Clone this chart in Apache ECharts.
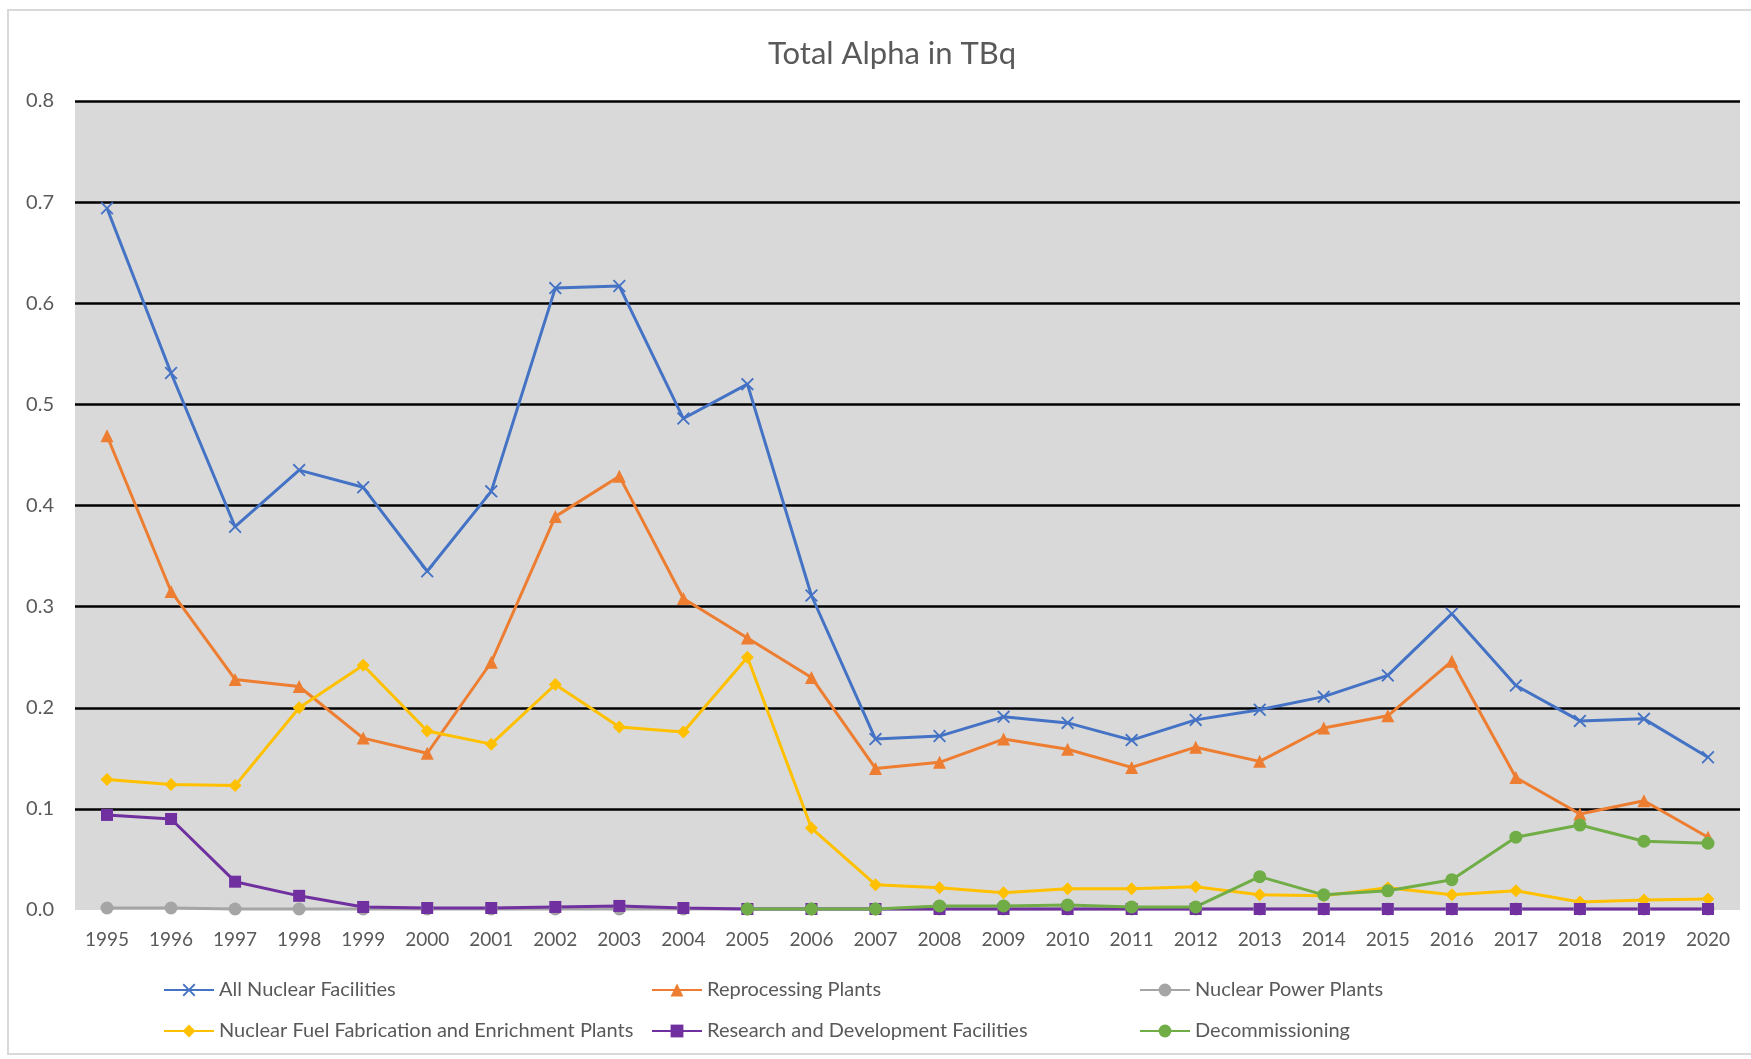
<!DOCTYPE html>
<html>
<head>
<meta charset="utf-8">
<title>Total Alpha in TBq</title>
<script src="https://cdn.jsdelivr.net/npm/echarts@6/dist/echarts.min.js"></script>
<style>
  html, body { margin: 0; padding: 0; background: #fff; }
  #container { width: 1751px; height: 1059px; }
</style>
</head>
<body>
<div id="container"></div>
<script>
// years on the x axis
var years = ['1995','1996','1997','1998','1999','2000','2001','2002','2003','2004','2005','2006','2007',
             '2008','2009','2010','2011','2012','2013','2014','2015','2016','2017','2018','2019','2020'];

// values in TBq
var allFacilities = [0.694, 0.531, 0.379, 0.435, 0.418, 0.335, 0.414, 0.615, 0.617, 0.486, 0.520, 0.311, 0.169,
                     0.172, 0.191, 0.185, 0.168, 0.188, 0.198, 0.211, 0.232, 0.293, 0.222, 0.187, 0.189, 0.151];
var reprocessing = [0.469, 0.315, 0.228, 0.221, 0.170, 0.155, 0.245, 0.389, 0.429, 0.308, 0.269, 0.230, 0.140,
                    0.146, 0.169, 0.159, 0.141, 0.161, 0.147, 0.180, 0.192, 0.246, 0.131, 0.095, 0.108, 0.072];
var powerPlants = [0.002, 0.002, 0.001, 0.001, 0.001, 0.001, 0.001, 0.001, 0.001, 0.001, 0.001, 0.001, 0.001,
                   0.001, 0.001, 0.001, 0.001, 0.001, 0.001, 0.001, 0.001, 0.001, 0.001, 0.001, 0.001, 0.001];
var fuelFabrication = [0.129, 0.124, 0.123, 0.200, 0.242, 0.177, 0.164, 0.223, 0.181, 0.176, 0.250, 0.081, 0.025,
                       0.022, 0.017, 0.021, 0.021, 0.023, 0.015, 0.014, 0.022, 0.015, 0.019, 0.008, 0.010, 0.011];
var researchDev = [0.094, 0.090, 0.028, 0.014, 0.003, 0.002, 0.002, 0.003, 0.004, 0.002, 0.001, 0.001, 0.001,
                   0.001, 0.001, 0.001, 0.001, 0.001, 0.001, 0.001, 0.001, 0.001, 0.001, 0.001, 0.001, 0.001];
var decommissioning = [null, null, null, null, null, null, null, null, null, null, 0.001, 0.001, 0.001,
                       0.004, 0.004, 0.005, 0.003, 0.003, 0.033, 0.015, 0.019, 0.030, 0.072, 0.084, 0.068, 0.066];

var seriesNames = ['All Nuclear Facilities', 'Reprocessing Plants', 'Nuclear Power Plants',
                   'Nuclear Fuel Fabrication and Enrichment Plants', 'Research and Development Facilities', 'Decommissioning'];
var yTicks = [0, 0.1, 0.2, 0.3, 0.4, 0.5, 0.6, 0.7, 0.8];

var FONT = 'Lato';
var TXT = '#595959';
var crossSymbol = 'path://M0,1 L1,0 L5,4 L9,0 L10,1 L6,5 L10,9 L9,10 L5,6 L1,10 L0,9 L4,5 Z';

var dom = document.getElementById('container');
var myChart = echarts.init(dom);

function line(name, data, color, symbol, size) {
    return {
        name: name,
        type: 'line',
        data: data,
        symbol: symbol,
        symbolSize: size,
        showAllSymbol: true,
        connectNulls: false,
        lineStyle: { color: color, width: 3 },
        itemStyle: { color: color },
        emphasis: { disabled: true }
    };
}

// one legend per item so they sit in fixed columns like the original
var legendPos = [[163, 980], [651, 980], [1139, 980], [163, 1021], [651, 1021], [1139, 1021]];
var legends = seriesNames.map(function (n, i) {
    return {
        data: [n],
        left: legendPos[i][0],
        top: legendPos[i][1],
        padding: 0,
        itemWidth: 50,
        itemHeight: 16,
        textStyle: { fontFamily: FONT, fontSize: 20, color: TXT },
        selectedMode: false
    };
});

var option = {
    animation: false,
    backgroundColor: '#fff',
    title: {
        text: 'Total Alpha in TBq',
        left: 763,
        top: 33,
        textStyle: { fontFamily: FONT, fontSize: 31, fontWeight: 'normal', color: TXT }
    },
    graphic: [{
        type: 'rect',
        shape: { x: 8, y: 10, width: 1760, height: 1044 },
        style: { fill: 'none', stroke: '#d9d9d9', lineWidth: 2 },
        silent: true, z: -10
    }],
    legend: legends,
    grid: {
        left: 75, right: 11, top: 101, bottom: 149,
        show: true, backgroundColor: '#d9d9d9', borderWidth: 0
    },
    xAxis: {
        type: 'category',
        data: years,
        boundaryGap: true,
        axisLine: { show: false },
        axisTick: { show: false },
        axisLabel: { fontFamily: FONT, fontSize: 19, color: TXT, margin: 20, interval: 0 }
    },
    yAxis: {
        type: 'value',
        min: yTicks[0],
        max: yTicks[yTicks.length - 1],
        interval: 0.1,
        axisLine: { show: false },
        axisTick: { show: false },
        splitLine: { show: true, showMinLine: false, lineStyle: { color: '#000', width: 2.5 } },
        axisLabel: {
            fontFamily: FONT, fontSize: 20, color: TXT, margin: 21,
            formatter: function (v) { return v.toFixed(1); }
        }
    },
    series: [
        line(seriesNames[0], allFacilities, '#4472C4', crossSymbol, 13),
        line(seriesNames[1], reprocessing, '#ED7D31', 'triangle', 13),
        line(seriesNames[2], powerPlants, '#A5A5A5', 'circle', 13),
        line(seriesNames[3], fuelFabrication, '#FFC000', 'diamond', 13),
        line(seriesNames[4], researchDev, '#7030A0', 'rect', 12),
        line(seriesNames[5], decommissioning, '#70AD47', 'circle', 13)
    ]
};

if (option && typeof option === 'object') {
    myChart.setOption(option, true);
}
</script>
</body>
</html>
